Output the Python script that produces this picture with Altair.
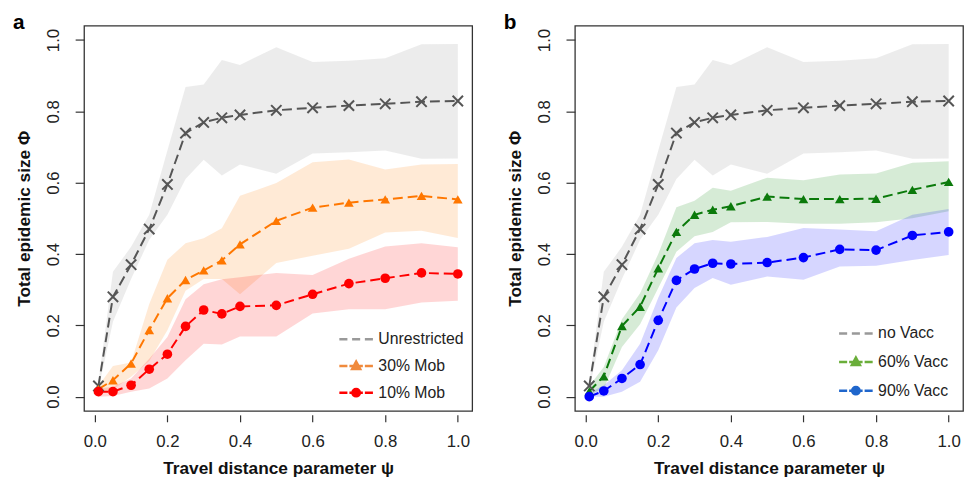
import altair as alt
import pandas as pd

# ---------------- data ----------------
x_vals = [0.01, 0.05, 0.10, 0.15, 0.20, 0.25, 0.30, 0.35, 0.40, 0.50, 0.60, 0.70, 0.80, 0.90, 1.00]

unres_mean = [0.030, 0.280, 0.370, 0.470, 0.595, 0.739, 0.769, 0.782, 0.790, 0.803, 0.810, 0.816, 0.821, 0.827, 0.829]
unres_lo = [0.020, 0.210, 0.330, 0.440, 0.510, 0.610, 0.664, 0.620, 0.651, 0.625, 0.682, 0.685, 0.690, 0.667, 0.668]
unres_hi = [0.040, 0.350, 0.420, 0.510, 0.690, 0.868, 0.875, 0.944, 0.930, 0.980, 0.938, 0.942, 0.949, 0.988, 0.989]

mob30_mean = [0.021, 0.046, 0.093, 0.187, 0.276, 0.327, 0.354, 0.382, 0.427, 0.493, 0.530, 0.544, 0.553, 0.563, 0.553]
mob30_lo = [0.010, 0.020, 0.056, 0.100, 0.186, 0.297, 0.330, 0.330, 0.287, 0.375, 0.395, 0.415, 0.460, 0.465, 0.445]
mob30_hi = [0.030, 0.086, 0.096, 0.260, 0.384, 0.430, 0.444, 0.472, 0.563, 0.599, 0.657, 0.665, 0.637, 0.651, 0.652]

mob10_mean = [0.014, 0.014, 0.032, 0.077, 0.119, 0.197, 0.243, 0.232, 0.253, 0.256, 0.287, 0.317, 0.332, 0.347, 0.344]
mob10_lo = [0.000, 0.002, 0.014, 0.023, 0.051, 0.102, 0.148, 0.146, 0.169, 0.169, 0.233, 0.245, 0.245, 0.264, 0.269]
mob10_hi = [0.023, 0.028, 0.051, 0.106, 0.167, 0.273, 0.315, 0.329, 0.335, 0.347, 0.341, 0.387, 0.421, 0.430, 0.419]

vac60_mean = [0.015, 0.057, 0.198, 0.252, 0.360, 0.462, 0.510, 0.524, 0.534, 0.561, 0.554, 0.554, 0.555, 0.580, 0.602]
vac60_lo = [0.005, 0.023, 0.139, 0.203, 0.305, 0.406, 0.450, 0.462, 0.489, 0.490, 0.485, 0.485, 0.489, 0.500, 0.520]
vac60_hi = [0.030, 0.083, 0.217, 0.290, 0.400, 0.531, 0.549, 0.586, 0.577, 0.614, 0.607, 0.623, 0.626, 0.656, 0.660]

vac90_mean = [0.000, 0.016, 0.051, 0.090, 0.214, 0.326, 0.358, 0.374, 0.372, 0.376, 0.390, 0.413, 0.411, 0.452, 0.462]
vac90_lo = [0.000, 0.000, 0.014, 0.042, 0.130, 0.250, 0.305, 0.333, 0.314, 0.337, 0.328, 0.365, 0.367, 0.383, 0.397]
vac90_hi = [0.010, 0.032, 0.074, 0.148, 0.277, 0.389, 0.430, 0.439, 0.434, 0.448, 0.473, 0.469, 0.464, 0.510, 0.526]

names_a = ["Unrestricted", "30% Mob", "10% Mob"]
names_b = ["no Vacc", "60% Vacc", "90% Vacc"]
panel_letters = ["a", "b"]
x_ticks = [0.0, 0.2, 0.4, 0.6, 0.8, 1.0]
y_ticks = [0.0, 0.2, 0.4, 0.6, 0.8, 1.0]
x_title = "Travel distance parameter ψ"
y_title = "Total epidemic size Φ"

# ---------------- style ----------------
FONT = "Liberation Sans"
W, H = 393, 390
XPATH = "M-1,-1L1,1M-1,1L1,-1"
LEG_DASH = "M-1,0H-0.52M-0.24,0H0.24M0.52,0H1"
LEG_TRI = "M-1,0H-0.52M-0.4,0H0.4M0.52,0H1M-0.24,0.18L0,-0.26L0.24,0.18Z"
LEG_CIR = ("M-1,0H-0.52M-0.4,0H0.4M0.52,0H1"
           "M-0.22,0A0.22,0.22,0,1,0,0.22,0A0.22,0.22,0,1,0,-0.22,0Z")


def long_df(names, means, los, his):
    rows = []
    for n, m, l, h in zip(names, means, los, his):
        for xv, mv, lv, hv in zip(x_vals, m, l, h):
            rows.append({"x": xv, "mean": mv, "lo": lv, "hi": hv, "series": n})
    return pd.DataFrame(rows)


def panel(df, names, band_col, line_col, marker_shapes, leg_col, leg_paths,
          letter, leg_dx, leg_dy, row_pad):
    xenc = alt.X(
        "x:Q",
        scale=alt.Scale(domain=[-0.0296, 1.0396], nice=False, zero=False),
        axis=alt.Axis(values=x_ticks, format=".1f", title=x_title, domain=False, grid=False,
                      tickSize=7, offset=4, labelPadding=12, labelFontSize=17, labelFont=FONT,
                      labelColor="#222", tickColor="#333", tickWidth=1.2, titleFont=FONT,
                      titleFontSize=17.5, titleFontWeight="bold", titleColor="#111",
                      titlePadding=10, labelFlush=False, labelOverlap=False),
    )
    yscale = alt.Scale(domain=[-0.04, 1.04], nice=False, zero=False)
    yaxis = alt.Axis(values=y_ticks, format=".1f", title=y_title, domain=False, grid=False,
                     tickSize=9, labelAngle=270, labelAlign="center", labelBaseline="bottom",
                     labelPadding=13, labelFontSize=17, labelFont=FONT, labelColor="#222",
                     tickColor="#333", tickWidth=1.2, titleFont=FONT, titleFontSize=17.5,
                     titleFontWeight="bold", titleColor="#111", titlePadding=11,
                     labelFlush=False, labelOverlap=False)
    base = alt.Chart(df)

    band = base.mark_area(opacity=0.16).encode(
        x=xenc,
        y=alt.Y("lo:Q", scale=yscale, axis=yaxis, stack=None),
        y2="hi:Q",
        fill=alt.Fill("series:N", scale=alt.Scale(domain=names, range=band_col), legend=None),
    )
    line = base.mark_line(strokeWidth=2, strokeDash=[10, 5]).encode(
        x=xenc,
        y=alt.Y("mean:Q", scale=yscale, axis=yaxis),
        stroke=alt.Stroke("series:N", scale=alt.Scale(domain=names, range=line_col), legend=None),
    )
    xmark = base.transform_filter(alt.datum.series == names[0]).mark_point(
        shape=XPATH, size=110, filled=False, strokeWidth=2, color=line_col[0], opacity=1
    ).encode(x=xenc, y=alt.Y("mean:Q", scale=yscale, axis=yaxis))
    pts = base.transform_filter(alt.datum.series != names[0]).mark_point(
        filled=True, size=95, opacity=1
    ).encode(
        x=xenc,
        y=alt.Y("mean:Q", scale=yscale, axis=yaxis),
        fill=alt.Fill("series:N", scale=alt.Scale(domain=names[1:], range=line_col[1:]), legend=None),
        shape=alt.Shape("series:N", scale=alt.Scale(domain=names[1:], range=marker_shapes), legend=None),
    )
    leg_common = dict(title=None, orient="none", legendX=W - leg_dx, legendY=H - leg_dy,
                      symbolSize=1156, symbolStrokeWidth=2.5, symbolOpacity=1,
                      labelFont=FONT, labelFontSize=16, labelColor="#222", labelOffset=4,
                      rowPadding=row_pad, padding=0)
    leg = base.transform_filter(alt.datum.x == 1.0).mark_point(filled=True, opacity=0).encode(
        x=xenc,
        y=alt.Y("mean:Q", scale=yscale, axis=yaxis),
        fill=alt.Fill("series:N", scale=alt.Scale(domain=names, range=leg_col),
                      legend=alt.Legend(**leg_common)),
        stroke=alt.Stroke("series:N", scale=alt.Scale(domain=names, range=leg_col),
                          legend=alt.Legend(**leg_common)),
        shape=alt.Shape("series:N", scale=alt.Scale(domain=names, range=leg_paths),
                        legend=alt.Legend(**leg_common)),
    )
    lt = alt.Chart(pd.DataFrame({"t": [letter]})).mark_text(
        align="left", baseline="alphabetic", font=FONT, fontSize=21, fontWeight="bold", color="#000"
    ).encode(x=alt.value(-72), y=alt.value(3), text="t:N")

    return alt.layer(band, line, xmark, pts, leg, lt).resolve_scale(
        fill="independent", stroke="independent", shape="independent"
    ).properties(width=W, height=H)


df_a = long_df(names_a, [unres_mean, mob30_mean, mob10_mean],
               [unres_lo, mob30_lo, mob10_lo], [unres_hi, mob30_hi, mob10_hi])
df_b = long_df(names_b, [unres_mean, vac60_mean, vac90_mean],
               [unres_lo, vac60_lo, vac90_lo], [unres_hi, vac60_hi, vac90_hi])

pa = panel(df_a, names_a,
           band_col=["#8a8a8a", "#ff7f00", "#ff0000"],
           line_col=["#555555", "#ff7700", "#ff0000"],
           marker_shapes=["triangle-up", "circle"],
           leg_col=["#999999", "#f08a3c", "#ff0000"],
           leg_paths=[LEG_DASH, LEG_TRI, LEG_CIR],
           letter=panel_letters[0], leg_dx=136, leg_dy=91, row_pad=-6)
pb = panel(df_b, names_b,
           band_col=["#8a8a8a", "#008000", "#0000ff"],
           line_col=["#555555", "#0b7a0b", "#0000ff"],
           marker_shapes=["triangle-up", "circle"],
           leg_col=["#999999", "#6aae3a", "#1f66cc"],
           leg_paths=[LEG_DASH, LEG_TRI, LEG_CIR],
           letter=panel_letters[1], leg_dx=127, leg_dy=97, row_pad=2)

chart = alt.hconcat(pa, pb, spacing=30).properties(
    padding={"left": 4, "top": 0, "right": 2, "bottom": 1}
).configure_view(stroke="#333", strokeWidth=1.3)

chart.save("out.html", embed_options={"renderer": "svg", "actions": False})
